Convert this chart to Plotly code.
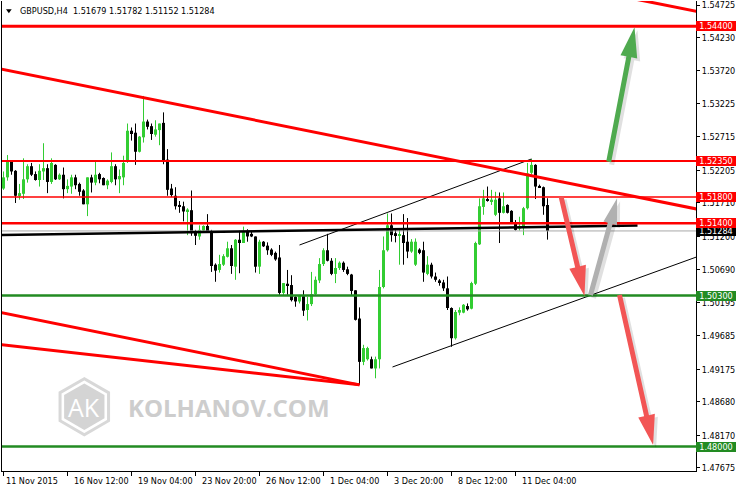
import math
import plotly.graph_objects as go

# ---------------- data ----------------
candle_open = [
    1.5193, 1.5210, 1.5235, 1.5220, 1.5183, 1.5185, 1.5207, 1.5227, 1.5215, 1.5206,
    1.5219, 1.5224, 1.5203, 1.5229, 1.5207, 1.5214, 1.5192, 1.5196, 1.5210, 1.5200,
    1.5190, 1.5169, 1.5210, 1.5202, 1.5215, 1.5209, 1.5198, 1.5203, 1.5227, 1.5207,
    1.5210, 1.5234, 1.5281, 1.5278, 1.5249, 1.5271, 1.5295, 1.5288, 1.5275, 1.5282,
    1.5293, 1.5237, 1.5193, 1.5182, 1.5168, 1.5166, 1.5158, 1.5160, 1.5127, 1.5120,
    1.5129, 1.5136, 1.5127, 1.5077, 1.5069, 1.5077, 1.5089, 1.5102, 1.5074, 1.5115,
    1.5110, 1.5127, 1.5124, 1.5120, 1.5074, 1.5112, 1.5106, 1.5100, 1.5095, 1.5088,
    1.5034, 1.5048, 1.5046, 1.5028, 1.5021, 1.5029, 1.5008, 1.5017, 1.5032, 1.5053,
    1.5078, 1.5099, 1.5083, 1.5063, 1.5072, 1.5080, 1.5070, 1.5062, 1.5038, 1.4995,
    1.4929, 1.4933, 1.4933, 1.4919, 1.4933, 1.5043, 1.5099, 1.5137, 1.5125, 1.5121,
    1.5122, 1.5112, 1.5097, 1.5077, 1.5100, 1.5099, 1.5063, 1.5077, 1.5059, 1.5053,
    1.5050, 1.5041, 1.5011, 1.4965, 1.5004, 1.5004, 1.5014, 1.5010, 1.5048, 1.5108,
    1.5165, 1.5177, 1.5173, 1.5153, 1.5178, 1.5156, 1.5168, 1.5159, 1.5142, 1.5132,
    1.5134, 1.5163, 1.5217, 1.5229, 1.5197, 1.5195, 1.51679,
]
candle_high = [
    1.5219, 1.5244, 1.5236, 1.5221, 1.5200, 1.5239, 1.5230, 1.5232, 1.5219, 1.5230,
    1.5262, 1.5230, 1.5239, 1.5230, 1.5216, 1.5225, 1.5207, 1.5214, 1.5214, 1.5202,
    1.5192, 1.5210, 1.5214, 1.5236, 1.5217, 1.5210, 1.5207, 1.5248, 1.5230, 1.5222,
    1.5243, 1.5292, 1.5286, 1.5292, 1.5273, 1.5334, 1.5298, 1.5292, 1.5297, 1.5292,
    1.5309, 1.5253, 1.5200, 1.5195, 1.5174, 1.5173, 1.5163, 1.5190, 1.5130, 1.5137,
    1.5137, 1.5154, 1.5130, 1.5079, 1.5092, 1.5093, 1.5112, 1.5107, 1.5116, 1.5129,
    1.5135, 1.5131, 1.5129, 1.5120, 1.5115, 1.5113, 1.5111, 1.5102, 1.5097, 1.5107,
    1.5049, 1.5069, 1.5061, 1.5029, 1.5031, 1.5038, 1.5028, 1.5066, 1.5059, 1.5087,
    1.5102, 1.5124, 1.5087, 1.5087, 1.5082, 1.5082, 1.5074, 1.5063, 1.5038, 1.5012,
    1.4955, 1.4952, 1.4937, 1.4937, 1.5069, 1.5120, 1.5155, 1.5155, 1.5132, 1.5130,
    1.5154, 1.5148, 1.5116, 1.5117, 1.5102, 1.5112, 1.5090, 1.5080, 1.5065, 1.5055,
    1.5054, 1.5059, 1.5012, 1.5008, 1.5012, 1.5017, 1.5018, 1.5051, 1.5112, 1.5178,
    1.5191, 1.5196, 1.5191, 1.5188, 1.5187, 1.5187, 1.5169, 1.5160, 1.5145, 1.5150,
    1.5165, 1.5232, 1.5238, 1.5230, 1.5199, 1.5196, 1.51782,
]
candle_low = [
    1.5191, 1.5205, 1.5214, 1.5171, 1.5176, 1.5177, 1.5202, 1.5212, 1.5205, 1.5196,
    1.5206, 1.5186, 1.5200, 1.5206, 1.5206, 1.5178, 1.5186, 1.5185, 1.5192, 1.5182,
    1.5169, 1.5151, 1.5187, 1.5198, 1.5201, 1.5198, 1.5192, 1.5201, 1.5198, 1.5186,
    1.5198, 1.5232, 1.5266, 1.5229, 1.5248, 1.5263, 1.5283, 1.5267, 1.5272, 1.5259,
    1.5230, 1.5182, 1.5180, 1.5161, 1.5156, 1.5143, 1.5122, 1.5121, 1.5107, 1.5115,
    1.5127, 1.5126, 1.5066, 1.5051, 1.5065, 1.5075, 1.5088, 1.5063, 1.5054, 1.5064,
    1.5110, 1.5112, 1.5119, 1.5065, 1.5063, 1.5104, 1.5092, 1.5090, 1.5083, 1.5031,
    1.5031, 1.5031, 1.5021, 1.5013, 1.5018, 1.4999, 1.4992, 1.5014, 1.5031, 1.5049,
    1.5075, 1.5082, 1.5061, 1.5049, 1.5069, 1.5066, 1.5061, 1.5031, 1.4992, 1.4894,
    1.4924, 1.4931, 1.4919, 1.4904, 1.4919, 1.5041, 1.5097, 1.5112, 1.5111, 1.5077,
    1.5077, 1.5087, 1.5095, 1.5075, 1.5093, 1.5051, 1.5061, 1.5056, 1.5051, 1.5045,
    1.5037, 1.5008, 1.4952, 1.4963, 1.5000, 1.5003, 1.5007, 1.5009, 1.5046, 1.5107,
    1.5153, 1.5173, 1.5168, 1.5151, 1.5110, 1.5155, 1.5155, 1.5141, 1.5129, 1.5129,
    1.5122, 1.5161, 1.5214, 1.5177, 1.5194, 1.5153, 1.51152,
]
candle_close = [
    1.5210, 1.5236, 1.5219, 1.5182, 1.5186, 1.5207, 1.5227, 1.5214, 1.5206, 1.5220,
    1.5224, 1.5203, 1.5232, 1.5207, 1.5214, 1.5192, 1.5197, 1.5210, 1.5198, 1.5188,
    1.5169, 1.5210, 1.5202, 1.5214, 1.5207, 1.5198, 1.5205, 1.5227, 1.5207, 1.5212,
    1.5232, 1.5281, 1.5276, 1.5249, 1.5272, 1.5295, 1.5287, 1.5276, 1.5283, 1.5292,
    1.5236, 1.5191, 1.5183, 1.5166, 1.5165, 1.5158, 1.5161, 1.5125, 1.5121, 1.5130,
    1.5136, 1.5127, 1.5075, 1.5068, 1.5078, 1.5090, 1.5102, 1.5075, 1.5115, 1.5110,
    1.5127, 1.5120, 1.5120, 1.5074, 1.5112, 1.5105, 1.5099, 1.5092, 1.5085, 1.5034,
    1.5049, 1.5045, 1.5023, 1.5021, 1.5031, 1.5007, 1.5017, 1.5032, 1.5054, 1.5078,
    1.5099, 1.5083, 1.5063, 1.5072, 1.5080, 1.5069, 1.5063, 1.5037, 1.4993, 1.4929,
    1.4950, 1.4950, 1.4919, 1.4933, 1.5043, 1.5099, 1.5137, 1.5122, 1.5122, 1.5123,
    1.5110, 1.5097, 1.5112, 1.5112, 1.5095, 1.5065, 1.5077, 1.5059, 1.5054, 1.5050,
    1.5041, 1.5011, 1.4965, 1.5005, 1.5008, 1.5016, 1.5009, 1.5049, 1.5110, 1.5166,
    1.5178, 1.5175, 1.5176, 1.5176, 1.5156, 1.5166, 1.5156, 1.5142, 1.5130, 1.5136,
    1.5163, 1.5216, 1.5229, 1.5196, 1.5195, 1.5166, 1.51284,
]

time_tick_index = [0, 16, 32, 48, 64, 80, 96, 112, 128]
time_tick_labels = ["11 Nov 2015", "16 Nov 12:00", "19 Nov 04:00", "23 Nov 20:00",
                    "26 Nov 12:00", "1 Dec 04:00", "3 Dec 20:00", "8 Dec 12:00",
                    "11 Dec 04:00"]

price_ticks = [1.54725, 1.54230, 1.53720, 1.53225, 1.52715, 1.52205, 1.51710,
               1.51200, 1.50690, 1.50195, 1.49685, 1.49175, 1.48680, 1.48170, 1.47675]

symbol_title = "GBPUSD,H4  1.51679 1.51782 1.51152 1.51284"
bid_price = 1.51284

# horizontal levels: resistance (red) and support (green)
resistance_levels = [1.54400, 1.52350, 1.51800, 1.51400]
support_levels = [1.50300, 1.48000]

# trend lines as ((candle index, price), (candle index, price))
falling_upper_line = ((-1, 1.53755), (175, 1.51597))
falling_top_line = ((148, 1.54935), (175, 1.54608))
falling_low_line_a = ((-1, 1.50046), (89, 1.48940))
falling_low_line_b = ((-1, 1.49554), (89, 1.48940))
channel_upper = ((74, 1.51070), (132, 1.52380))
channel_lower = ((97.25, 1.49212), (175, 1.50926))
flat_black_line = ((-1, 1.51220), (158.5, 1.51367))

# forecast arrows ((from index, from price), (to index, to price))
arrow_up_green = ((151.3, 1.52338), (157.75, 1.54385))
arrow_up_gray = ((146.75, 1.50308), (153.4, 1.51781))
arrow_down_red_1 = ((139.4, 1.51805), (145.25, 1.50293))
arrow_down_red_2 = ((154.0, 1.50308), (162.4, 1.48024))

# ---------------- geometry / style ----------------
W, H = 738, 489
ML, MR, MT, MB = 2, 42, 1, 18
PW, PH = W - ML - MR, H - MT - MB
X0 = -0.375
X1 = X0 + PW / 4.0
Y0, Y1 = 1.47628, 1.54786
SX = PW / (X1 - X0)
SY = PH / (Y1 - Y0)

FONT = "DejaVu Sans Condensed, DejaVu Sans, sans-serif"
UP = "#32CD32"
DOWN = "#000000"
RED = "#FF0000"
GREEN = "#228B22"

n = len(candle_open)
idx = list(range(n))

fig = go.Figure()

# wicks
for col, is_up in ((UP, True), (DOWN, False)):
    xs, ys = [], []
    for i in idx:
        if (candle_close[i] >= candle_open[i]) == is_up:
            xs += [i, i, None]
            ys += [candle_low[i], candle_high[i], None]
    fig.add_trace(go.Scatter(x=xs, y=ys, mode="lines", line=dict(color=col, width=1),
                             hoverinfo="skip", connectgaps=False))

# bodies
min_body = 0.00012
bases = [min(candle_open[i], candle_close[i]) for i in idx]
heights = [max(abs(candle_close[i] - candle_open[i]), min_body) for i in idx]
colors = [UP if candle_close[i] >= candle_open[i] else DOWN for i in idx]
fig.add_trace(go.Bar(x=idx, y=heights, base=bases, width=0.75,
                     marker=dict(color=colors, line=dict(width=0)), hoverinfo="skip"))

shapes = []


def seg(line, color, width):
    (a, b), (c, d) = line
    shapes.append(dict(type="line", xref="x", yref="y", x0=a, y0=b, x1=c, y1=d,
                       line=dict(color=color, width=width), layer="above"))


def hline(price, color, width):
    shapes.append(dict(type="line", xref="paper", yref="y", x0=0, x1=1, y0=price, y1=price,
                       line=dict(color=color, width=width), layer="above"))


hline(bid_price, "#A8A8A8", 1)
seg(flat_black_line, "#000000", 2.5)
seg(channel_upper, "#000000", 1)
seg(channel_lower, "#000000", 1)
for p, w in zip(resistance_levels, [3, 2, 1.5, 2.5]):
    hline(p, RED, w)
for p in support_levels:
    hline(p, GREEN, 2.5)
seg(falling_upper_line, RED, 3)
seg(falling_top_line, RED, 3)
seg(falling_low_line_a, RED, 3)
seg(falling_low_line_b, RED, 3)


def to_px(i, p):
    return ML + (i - X0) * SX, MT + (Y1 - p) * SY


def from_px(x, y):
    return X0 + (x - ML) / SX, Y1 - (y - MT) / SY


def arrow(a, color, head_len=30, head_half=8.5, shaft_half=2.5):
    (i0, p0), (i1, p1) = a
    tx, ty = to_px(i0, p0)
    hx, hy = to_px(i1, p1)
    dx, dy = hx - tx, hy - ty
    L = math.hypot(dx, dy)
    ux, uy = dx / L, dy / L
    nx, ny = -uy, ux
    bx, by = hx - ux * head_len, hy - uy * head_len
    pts = [(tx + nx * shaft_half, ty + ny * shaft_half),
           (bx + nx * shaft_half, by + ny * shaft_half),
           (bx + nx * head_half, by + ny * head_half),
           (hx, hy),
           (bx - nx * head_half, by - ny * head_half),
           (bx - nx * shaft_half, by - ny * shaft_half),
           (tx - nx * shaft_half, ty - ny * shaft_half)]
    for off, fc in ((3, "rgba(0,0,0,0.12)"), (0, color)):
        dpts = [from_px(x + off, y + off) for x, y in pts]
        path = "M" + " L".join(f"{u:.4f},{v:.6f}" for u, v in dpts) + " Z"
        shapes.append(dict(type="path", xref="x", yref="y", path=path,
                           fillcolor=fc, line=dict(width=0), layer="above"))


arrow(arrow_up_green, "#4FAA4F")
arrow(arrow_up_gray, "#B0B0B0", head_len=26, head_half=7)
arrow(arrow_down_red_1, "#F25555")
arrow(arrow_down_red_2, "#F25555")


# watermark (hexagon logo)
def paper(px, py):
    return (px - ML) / PW, (H - MB - py) / PH


def hexagon(cx, cy, r):
    pts = []
    for k in range(6):
        ang = math.radians(90 + 60 * k)
        pts.append(paper(cx + r * math.cos(ang), cy - r * math.sin(ang)))
    return "M" + " L".join(f"{u:.5f},{v:.5f}" for u, v in pts) + " Z"


shapes.append(dict(type="path", xref="paper", yref="paper", path=hexagon(84.3, 406.7, 28),
                   line=dict(color="#D8D8D8", width=3), fillcolor="rgba(0,0,0,0)", layer="below"))
shapes.append(dict(type="path", xref="paper", yref="paper", path=hexagon(84.3, 406.7, 23.3),
                   line=dict(width=0), fillcolor="#D4D4D4", layer="below"))

# title triangle
t1, t2, t3 = paper(6, 9.3), paper(11.7, 9.3), paper(8.85, 13.3)
shapes.append(dict(type="path", xref="paper", yref="paper",
                   path=f"M{t1[0]},{t1[1]} L{t2[0]},{t2[1]} L{t3[0]},{t3[1]} Z",
                   fillcolor="#000000", line=dict(width=0), layer="above"))

annotations = []
annotations.append(dict(text=symbol_title, xref="paper", yref="paper", x=0, y=1,
                        xanchor="left", yanchor="middle", xshift=16, yshift=-10,
                        showarrow=False, font=dict(family=FONT, size=9, color="#000000")))
annotations.append(dict(text="AK", xref="paper", yref="paper", x=paper(84.3, 0)[0],
                        y=paper(0, 407)[1], xanchor="center", yanchor="middle",
                        showarrow=False, font=dict(family="Open Sans", size=25, color="#FFFFFF")))
annotations.append(dict(text="<b>KOLHANOV.COM</b>", xref="paper", yref="paper",
                        x=paper(126, 0)[0], y=paper(0, 407)[1], xanchor="left",
                        yanchor="middle", showarrow=False,
                        font=dict(family="Open Sans", size=24, color="#CDCDCD")))

# time labels (left-aligned after the tick)
for k, (ti, lab) in enumerate(zip(time_tick_index, time_tick_labels)):
    annotations.append(dict(text=lab, xref="x", yref="paper", x=ti, y=0,
                            xanchor="left", yanchor="middle", xshift=0 if k == 0 else 4,
                            yshift=-10, showarrow=False,
                            font=dict(family=FONT, size=9, color="#000000")))


# price boxes on the right axis
def price_box(p, bg):
    annotations.append(dict(text=f"{p:.5f}", xref="paper", yref="y", x=1, y=p,
                            xanchor="left", yanchor="middle", showarrow=False,
                            width=40, height=10, align="center", bgcolor=bg,
                            borderpad=0, borderwidth=0,
                            font=dict(family=FONT, size=9, color="#FFFFFF")))


price_box(bid_price, "#000000")
for p in resistance_levels:
    price_box(p, RED)
for p in support_levels:
    price_box(p, GREEN)

fig.update_layout(
    width=W, height=H,
    margin=dict(l=ML, r=MR, t=MT, b=MB, pad=0),
    paper_bgcolor="#FFFFFF", plot_bgcolor="#FFFFFF",
    showlegend=False, barmode="overlay",
    shapes=shapes, annotations=annotations,
    xaxis=dict(range=[X0, X1], showgrid=False, zeroline=False, showline=True,
               linecolor="#000000", linewidth=1, ticks="outside", ticklen=4,
               tickcolor="#000000", tickvals=time_tick_index, showticklabels=False,
               fixedrange=True),
    yaxis=dict(range=[Y0, Y1], side="right", showgrid=False, zeroline=False,
               showline=True, mirror=True, linecolor="#000000", linewidth=1,
               ticks="outside", ticklen=3, tickcolor="#000000",
               tickvals=price_ticks, ticktext=[f"{v:.5f}" for v in price_ticks],
               tickfont=dict(family=FONT, size=9, color="#000000"), fixedrange=True),
)

fig.write_html("out.html", config={"displayModeBar": False},
               post_script="document.body.style.margin='0px';document.body.style.overflow='hidden';")
